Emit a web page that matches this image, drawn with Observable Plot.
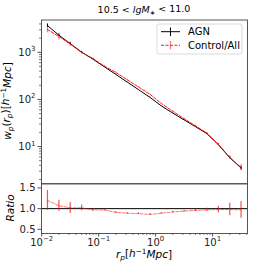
<!DOCTYPE html>
<html>
<head>
<meta charset="utf-8">
<script src="https://cdn.jsdelivr.net/npm/d3@7"></script>
<script src="https://cdn.jsdelivr.net/npm/@observablehq/plot@0.6"></script>
<style>
  html, body { margin: 0; padding: 0; background: white; }
  #wrap { position: relative; width: 274px; height: 274px; background: white; overflow: hidden; }
  #wrap svg { position: absolute; left: 0; overflow: visible; }
</style>
</head>
<body>
<div id="wrap"></div>
<script>
// ---- data ----
const rp = [0.0126, 0.02, 0.0316, 0.0501, 0.0794, 0.126, 0.2, 0.316, 0.501, 0.794, 1.26, 2.0, 3.16, 5.01, 7.94, 12.6, 20.0, 31.6];
const wpAGN = [3680, 2310, 1530, 1010, 714, 493, 340, 234, 161, 111, 72.8, 51.3, 36.8, 26.4, 18.8, 11.0, 5.8, 3.5];
const errAGN = [330, 140, 70, 30, 12, 6, 3, 2, 1.2, 0.8, 0.5, 0.4, 0.3, 0.3, 0.3, 0.3, 0.25, 0.3];
const wpCtrl = [3050, 2160, 1500, 990, 736, 508, 374, 262, 183, 129, 82, 56, 39, 27.5, 19.3, 11.2, 5.9, 3.6];
const errCtrl = [450, 330, 150, 60, 25, 12, 8, 5, 3, 2, 1.5, 1, 0.8, 0.6, 0.5, 0.6, 0.5, 0.55];
const ratio = [1.20, 1.07, 1.02, 1.02, 0.97, 0.97, 0.91, 0.89, 0.88, 0.86, 0.89, 0.92, 0.94, 0.96, 0.97, 0.98, 0.98, 0.97];
const ratioErr = [0.24, 0.13, 0.13, 0.07, 0.03, 0.02, 0.02, 0.02, 0.02, 0.02, 0.02, 0.02, 0.02, 0.03, 0.04, 0.08, 0.15, 0.2];
const xMajor = [0.01, 0.1, 1, 10];
const yMajor = [10, 100, 1000];
const rMajor = [0.5, 1.0, 1.5];
const titleParts = ["10.5 < ", "lgM", "\u2217", " < 11.0"];
const legendLabels = ["AGN", "Control/All"];

const agn = rp.map((r, i) => ({rp: r, wp: wpAGN[i], err: errAGN[i]}));
const ctrl = rp.map((r, i) => ({rp: r, wp: wpCtrl[i], err: errCtrl[i], ratio: ratio[i], rerr: ratioErr[i]}));

function minorTicks(lo, hi) {
  const out = [];
  for (let e = -3; e <= 4; e++) for (let m = 2; m <= 9; m++) {
    const v = m * Math.pow(10, e);
    if (v >= lo && v <= hi) out.push(v);
  }
  return out;
}
const supFmt = d => "10^" + Math.round(Math.log10(d));
const axisColor = "#222";
const font = "DejaVu Sans, sans-serif";

const xDomain = [0.0099, 41];
const main = Plot.plot({
  width: 274, height: 184,
  marginTop: 19.5, marginBottom: 0.7, marginLeft: 41, marginRight: 27,
  style: {fontFamily: font, fontSize: "10px", background: "transparent", color: axisColor},
  x: {type: "log", domain: xDomain, axis: null},
  y: {type: "log", domain: [1.62, 4850], axis: null},
  marks: [
    Plot.axisY({ticks: yMajor, tickFormat: supFmt, tickSize: 3.5, tickPadding: 2.5, label: null, strokeWidth: 0.8, fontSize: 10}),
    Plot.axisY({ticks: minorTicks(1.62, 4850), tickFormat: () => "", tickSize: 2, label: null, strokeWidth: 0.6}),
    Plot.line(agn, {x: "rp", y: "wp", stroke: "black", strokeWidth: 1}),
    Plot.ruleX(agn, {x: "rp", y1: d => d.wp - d.err, y2: d => d.wp + d.err, stroke: "black", strokeWidth: 1}),
    Plot.line(ctrl, {x: "rp", y: "wp", stroke: "#ff0000", strokeWidth: 0.9, strokeDasharray: "3,1.5"}),
    Plot.ruleX(ctrl, {x: "rp", y1: d => d.wp - d.err, y2: d => d.wp + d.err, stroke: "#ff0000", strokeOpacity: 0.5, strokeWidth: 1.3}),
    Plot.frame({stroke: "#444", strokeWidth: 0.9})
  ]
});
main.style.top = "0px";

const low = Plot.plot({
  width: 274, height: 91,
  marginTop: 0.3, marginBottom: 41, marginLeft: 41, marginRight: 27,
  style: {fontFamily: font, fontSize: "10px", background: "transparent", color: axisColor},
  x: {type: "log", domain: xDomain, axis: null},
  y: {domain: [0.4, 1.6], axis: null},
  marks: [
    Plot.axisY({ticks: rMajor, tickFormat: d => d.toFixed(1), tickSize: 3.5, tickPadding: 2.5, label: null, strokeWidth: 0.8, fontSize: 10}),
    Plot.axisX({ticks: xMajor, tickFormat: supFmt, tickSize: 3.5, tickPadding: 1.5, label: null, strokeWidth: 0.8, fontSize: 10}),
    Plot.axisX({ticks: minorTicks(xDomain[0], xDomain[1]), tickFormat: () => "", tickSize: 2, label: null, strokeWidth: 0.6}),
    Plot.ruleY([1], {stroke: "black", strokeWidth: 1}),
    Plot.line(ctrl, {x: "rp", y: "ratio", stroke: "#ff0000", strokeWidth: 0.9, strokeDasharray: "3,1.5", strokeOpacity: 0.6}),
    Plot.ruleX(ctrl, {x: "rp", y1: d => d.ratio - d.rerr, y2: d => d.ratio + d.rerr, stroke: "#ff0000", strokeOpacity: 0.7, strokeWidth: 1.2}),
    Plot.frame({stroke: "#444", strokeWidth: 0.9})
  ]
});
low.style.top = "183px";

const wrap = document.getElementById("wrap");
wrap.appendChild(main);
wrap.appendChild(low);

// superscript tick labels like matplotlib's 10^{n}
for (const svg of [main, low]) {
  d3.select(svg).selectAll("text").each(function () {
    const t = this.textContent;
    const m = /^10\^(-?\d+)$/.exec(t);
    if (m) {
      const sel = d3.select(this);
      sel.text(null);
      sel.append("tspan").text("10");
      sel.append("tspan").attr("font-size", "7px").attr("dy", "-0.6em").text(m[1].replace("-", "\u2212"));
    }
  });
}

// math-style text helper
function mathText(parent, parts, attrs) {
  const t = parent.append("text").attr("font-family", font).attr("fill", "black").attr("text-anchor", "start");
  for (const [k, v] of Object.entries(attrs)) t.attr(k, v);
  for (const p of parts) {
    const s = t.append("tspan").text(p.t);
    if (p.i) s.attr("font-style", "italic");
    if (p.sub) s.attr("font-size", "0.7em").attr("dy", "0.3em");
    if (p.sup) s.attr("font-size", "0.7em").attr("dy", "-0.45em");
    if (p.back) s.attr("dy", p.back);
  }
  return t;
}

const ms = d3.select(main);
// title
mathText(ms, [
  {t: titleParts[0]}, {t: titleParts[1], i: true}, {t: titleParts[2], sub: true}, {t: titleParts[3], back: "-0.3em"}
], {x: 144, y: 13, "text-anchor": "middle", "font-size": "9.5px"});

// y label main
mathText(ms, [
  {t: "w", i: true}, {t: "p", i: true, sub: true}, {t: "(", back: "-0.3em"}, {t: "r", i: true}, {t: "p", i: true, sub: true},
  {t: ")[", back: "-0.3em"}, {t: "h", i: true}, {t: "\u22121", sup: true}, {t: "Mpc", i: true, back: "0.45em"}, {t: "]"}
], {transform: "translate(11,101) rotate(-90)", "text-anchor": "middle", "font-size": "10.5px"});

// legend
const lg = ms.append("g").attr("text-anchor", "start");
lg.append("rect").attr("x", 157).attr("y", 24).attr("width", 85).attr("height", 30).attr("rx", 2)
  .attr("fill", "white").attr("fill-opacity", 0.8).attr("stroke", "#d0d0d0").attr("stroke-width", 0.8);
lg.append("line").attr("x1", 161).attr("x2", 180).attr("y1", 31.7).attr("y2", 31.7).attr("stroke", "black").attr("stroke-width", 1);
lg.append("line").attr("x1", 170.5).attr("x2", 170.5).attr("y1", 27.5).attr("y2", 36).attr("stroke", "black").attr("stroke-width", 1);
lg.append("text").attr("x", 188).attr("y", 35.2).attr("text-anchor", "start").attr("font-family", font).attr("font-size", "10px").attr("fill", "black").text(legendLabels[0]);
lg.append("line").attr("x1", 161).attr("x2", 180).attr("y1", 45.3).attr("y2", 45.3).attr("stroke", "#ff0000").attr("stroke-width", 0.9).attr("stroke-dasharray", "3,1.5");
lg.append("line").attr("x1", 170.5).attr("x2", 170.5).attr("y1", 41).attr("y2", 49.5).attr("stroke", "#ff0000").attr("stroke-opacity", 0.5).attr("stroke-width", 1.3);
lg.append("text").attr("x", 188).attr("y", 48.8).attr("text-anchor", "start").attr("font-family", font).attr("font-size", "10px").attr("fill", "black").text(legendLabels[1]);

const ls = d3.select(low);
// ratio y label
mathText(ls, [{t: "Ratio", i: true}], {transform: "translate(11,25) rotate(-90)", "text-anchor": "middle", "dominant-baseline": "middle", "font-size": "10.5px"});
// x label
mathText(ls, [
  {t: "r", i: true}, {t: "p", i: true, sub: true}, {t: "[", back: "-0.3em"}, {t: "h", i: true}, {t: "\u22121", sup: true},
  {t: "Mpc", i: true, back: "0.45em"}, {t: "]"}
], {x: 144, y: 75, "text-anchor": "middle", "font-size": "10.5px"});
</script>
</body>
</html>
